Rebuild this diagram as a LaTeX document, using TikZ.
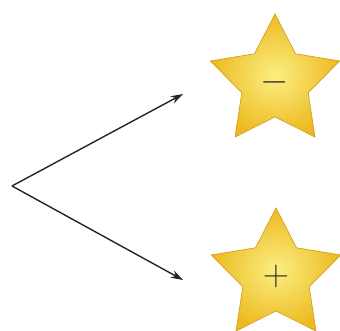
\documentclass[tikz,border=0pt]{standalone}
\usepackage{xcolor}
\definecolor{stargold}{RGB}{236,186,32}
\definecolor{starlight}{RGB}{252,238,130}
\definecolor{staredge}{RGB}{214,160,30}
\definecolor{signgray}{RGB}{60,58,40}
\usetikzlibrary{arrows.meta,positioning,shapes.geometric}

\begin{document}
\begin{tikzpicture}[
    x=0.02cm, y=-0.02cm,
    starbox/.style={star, star points=5, star point ratio=1.95, minimum size=2.72cm,
                    inner sep=0pt, draw=staredge, line width=0.4pt,
                    inner color=starlight, outer color=stargold,
                    text=signgray, font=\fontsize{20}{20}\selectfont},
    branch/.style={-{Stealth[length=7pt,width=4.5pt]}, line width=0.8pt, black!85},
  ]
    \useasboundingbox (0,0) rectangle (340,330);

    % Stars
    \node[starbox] (minus) at (275,82) {$-$};
    \node[starbox] (plus) at (276,276) {$+$};

    % Split point and arrow ends
    \coordinate (split) at (12,186);
    \coordinate (minusTip) at (183,94);
    \coordinate (plusTip) at (183,280);

    % Arrows
    \draw[branch] (split) -- (minusTip);
    \draw[branch] (split) -- (plusTip);
  \end{tikzpicture}
\end{document}
